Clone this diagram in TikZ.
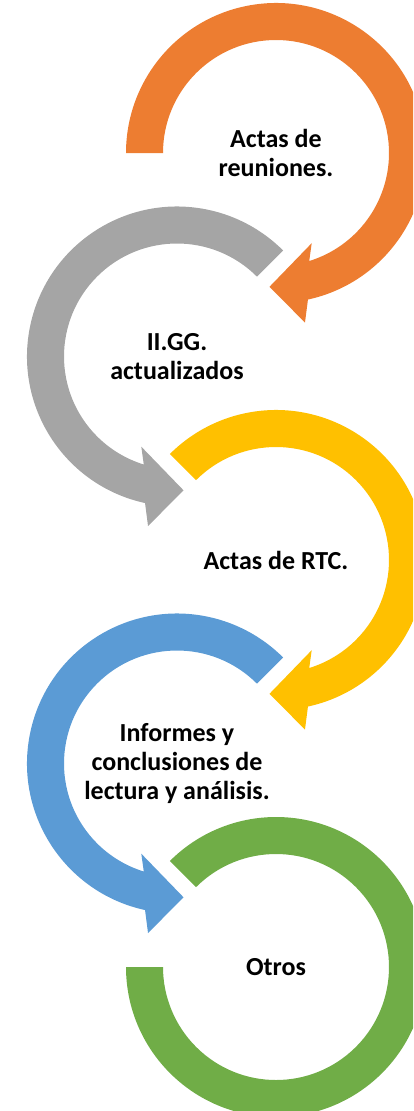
\documentclass[tikz,border=0pt]{standalone}
\usepackage{fontspec}
\setmainfont{Carlito}
\usetikzlibrary{positioning}

\definecolor{naranja}{HTML}{ED7D31}
\definecolor{gris}{HTML}{A5A5A5}
\definecolor{amarillo}{HTML}{FFC000}
\definecolor{azul}{HTML}{5B9BD5}
\definecolor{verde}{HTML}{70AD47}

% circular arrow round a node: node, colour, start angle, base angle, side (1 or -1)
\newcommand{\flecha}[5]{%
  \begin{scope}[shift={(#1.center)}]
    \fill[#2] (#3:113) arc[start angle=#3, end angle={#4+17.1*#5}, radius=113]
      -- ({#4+21.6*#5}:97) -- ({#4-2.8*#5}:134) -- ({#4+9.7*#5}:172)
      -- ({#4+12.3*#5}:150) arc[start angle={#4+12.3*#5}, end angle=#3, radius=150]
      -- cycle;
  \end{scope}}

\tikzset{etiqueta/.style={font=\bfseries\fontsize{26}{29}\selectfont, align=center}}

\begin{document}
\begin{tikzpicture}[x=1pt,y=1pt,on grid,node distance=203.5pt and 99pt]
   \useasboundingbox (0,0) rectangle (413,-1111);
   \clip (0,0) rectangle (413,-1111);
   \node[etiqueta] (reuniones) at (276,-153) {Actas de\\reuniones.};
   \node[etiqueta] (iigg) [below left=203.5pt and 99pt of reuniones] {II.GG.\\actualizados};
   \node[etiqueta] (rtc) [below right=203.5pt and 99pt of iigg] {Actas de RTC.};
   \node[etiqueta] (informes) [below left=203.5pt and 99pt of rtc] {Informes y\\conclusiones de\\lectura y análisis.};
   \node[etiqueta] (otros) [below right=203.5pt and 99pt of informes] {Otros};
   \flecha{reuniones}{naranja}{180}{-90}{1}
   \flecha{iigg}{gris}{45}{270}{-1}
   \flecha{rtc}{amarillo}{135}{-90}{1}
   \flecha{informes}{azul}{45}{270}{-1}
   % last one has no head
   \fill[verde, shift={(otros.center)}] (135:113) arc[start angle=135, end angle=-180, radius=113]
      -- (180:150) arc[start angle=-180, end angle=135, radius=150] -- cycle;
\end{tikzpicture}
\end{document}
